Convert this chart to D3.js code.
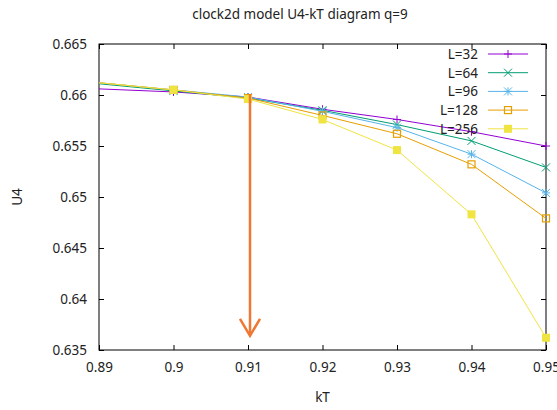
<!DOCTYPE html>
<html>
<head>
<meta charset="utf-8">
<script src="https://cdn.jsdelivr.net/npm/d3@7"></script>
<style>
body { margin: 0; background: #fff; }
text { font-family: "Noto Sans", sans-serif; fill: #222; }
</style>
</head>
<body>
<svg id="chart" width="557" height="410"></svg>
<script>
// temperatures kT
var kT = [0.89, 0.90, 0.91, 0.92, 0.93, 0.94, 0.95];
var sizes = ['L=32', 'L=64', 'L=96', 'L=128', 'L=256'];
// U4 per system size
var u4_32  = [0.6606, 0.6603, 0.6598, 0.6586, 0.6576, 0.6564, 0.6550];
var u4_64  = [0.6611, 0.6604, 0.6597, 0.6585, 0.6571, 0.6555, 0.6529];
var u4_96  = [0.6612, 0.6605, 0.6598, 0.6584, 0.6568, 0.6542, 0.6504];
var u4_128 = [0.6612, 0.6605, 0.6597, 0.6580, 0.6562, 0.6532, 0.6479];
var u4_256 = [0.6612, 0.6605, 0.6596, 0.6576, 0.6546, 0.6483, 0.6362];
var xTicks = [0.89, 0.90, 0.91, 0.92, 0.93, 0.94, 0.95];
var yTicks = [0.635, 0.64, 0.645, 0.65, 0.655, 0.66, 0.665];
// arrow marking the crossing
var arrowX = 0.91, arrowFrom = 0.6598, arrowTo = 0.6362;

var series = [
	{name: sizes[0], v: u4_32,  color: '#9400d3', pt: 'plus'},
	{name: sizes[1], v: u4_64,  color: '#009e73', pt: 'cross'},
	{name: sizes[2], v: u4_96,  color: '#56b4e9', pt: 'star'},
	{name: sizes[3], v: u4_128, color: '#e69f00', pt: 'box'},
	{name: sizes[4], v: u4_256, color: '#f0e442', pt: 'fbox'}
];

var svg = d3.select('#chart');
var pLeft = 99, pRight = 546, pTop = 44, pBottom = 350;

var x = d3.scaleLinear().domain([0.89, 0.95]).range([pLeft, pRight]);
var y = d3.scaleLinear().domain([0.635, 0.665]).range([pBottom, pTop]);

// title
svg.append('text').attr('x', 300).attr('y', 19).attr('text-anchor', 'middle')
	.style('font-size', '13.5px').text('clock2d model U4-kT diagram q=9');

// axes (gnuplot style: inward ticks, mirrored)
var fmt = function(d) { return String(+d.toFixed(3)); };
var gx = svg.append('g').attr('transform', 'translate(0,' + pBottom + ')')
	.call(d3.axisBottom(x).tickValues(xTicks).tickSize(-5).tickPadding(12).tickFormat(fmt));
var gx2 = svg.append('g').attr('transform', 'translate(0,' + pTop + ')')
	.call(d3.axisTop(x).tickValues(xTicks).tickSize(-5).tickFormat(''));
var gy = svg.append('g').attr('transform', 'translate(' + pLeft + ',0)')
	.call(d3.axisLeft(y).tickValues(yTicks).tickSize(-5).tickPadding(12).tickFormat(fmt));
var gy2 = svg.append('g').attr('transform', 'translate(' + pRight + ',0)')
	.call(d3.axisRight(y).tickValues(yTicks).tickSize(-5).tickFormat(''));
[gx, gx2, gy, gy2].forEach(function(g) {
	g.select('.domain').remove();
	g.selectAll('line').attr('stroke', '#000');
	g.selectAll('text').style('font-size', '13.5px').style('fill', '#222')
		.style('font-family', '"Noto Sans", sans-serif');
});
svg.append('rect').attr('x', pLeft).attr('y', pTop).attr('width', pRight - pLeft).attr('height', pBottom - pTop)
	.attr('fill', 'none').attr('stroke', '#000').attr('stroke-width', 1);

// axis labels
svg.append('text').attr('x', (pLeft + pRight) / 2).attr('y', 402).attr('text-anchor', 'middle')
	.style('font-size', '13.5px').text('kT');
svg.append('text').attr('transform', 'translate(22,' + ((pTop + pBottom) / 2) + ') rotate(-90)')
	.attr('text-anchor', 'middle').style('font-size', '13.5px').text('U4');

function marker(g, pt, color) {
	var s = 4;
	if(pt == 'plus' || pt == 'star') {
		g.append('path').attr('d', 'M' + (-s) + ',0H' + s + 'M0,' + (-s) + 'V' + s)
			.attr('stroke', color).attr('stroke-width', 1).attr('fill', 'none');
	}
	if(pt == 'cross' || pt == 'star') {
		g.append('path').attr('d', 'M' + (-s) + ',' + (-s) + 'L' + s + ',' + s + 'M' + (-s) + ',' + s + 'L' + s + ',' + (-s))
			.attr('stroke', color).attr('stroke-width', 1).attr('fill', 'none');
	}
	if(pt == 'box') {
		g.append('rect').attr('x', -3.5).attr('y', -3.5).attr('width', 7).attr('height', 7)
			.attr('stroke', color).attr('stroke-width', 1.2).attr('fill', 'none');
	}
	if(pt == 'fbox') {
		g.append('rect').attr('x', -4).attr('y', -4).attr('width', 8).attr('height', 8)
			.attr('fill', color);
	}
}

var line = d3.line().x(function(d) { return x(d[0]); }).y(function(d) { return y(d[1]); });

series.forEach(function(s) {
	var pts = kT.map(function(k, i) { return [k, s.v[i]]; });
	svg.append('path').datum(pts).attr('d', line)
		.attr('fill', 'none').attr('stroke', s.color).attr('stroke-width', 1);
	// the left-most points sit on the border and show no symbol in the original
	pts.filter(function(p) { return p[0] > x.domain()[0]; }).forEach(function(p) {
		marker(svg.append('g').attr('transform', 'translate(' + x(p[0]) + ',' + y(p[1]) + ')'), s.pt, s.color);
	});
});

// legend
series.forEach(function(s, i) {
	var ly = 54 + i * 18.7;
	svg.append('text').attr('x', 478).attr('y', ly + 5).attr('text-anchor', 'end')
		.style('font-size', '13.5px').text(s.name);
	svg.append('line').attr('x1', 488).attr('x2', 528).attr('y1', ly).attr('y2', ly)
		.attr('stroke', s.color).attr('stroke-width', 1);
	marker(svg.append('g').attr('transform', 'translate(508,' + ly + ')'), s.pt, s.color);
});

// orange arrow
var ax = x(arrowX) + 2, ay1 = y(arrowFrom) - 3, ay2 = y(arrowTo) - 2;
svg.append('line').attr('x1', ax).attr('x2', ax).attr('y1', ay1).attr('y2', ay2 - 2)
	.attr('stroke', '#ee7733').attr('stroke-width', 2.5);
svg.append('path').attr('d', 'M' + (ax - 10) + ',' + (ay2 - 17) + 'L' + ax + ',' + ay2 + 'L' + (ax + 10) + ',' + (ay2 - 17))
	.attr('stroke', '#ee7733').attr('stroke-width', 2.5).attr('fill', 'none');
</script>
</body>
</html>
